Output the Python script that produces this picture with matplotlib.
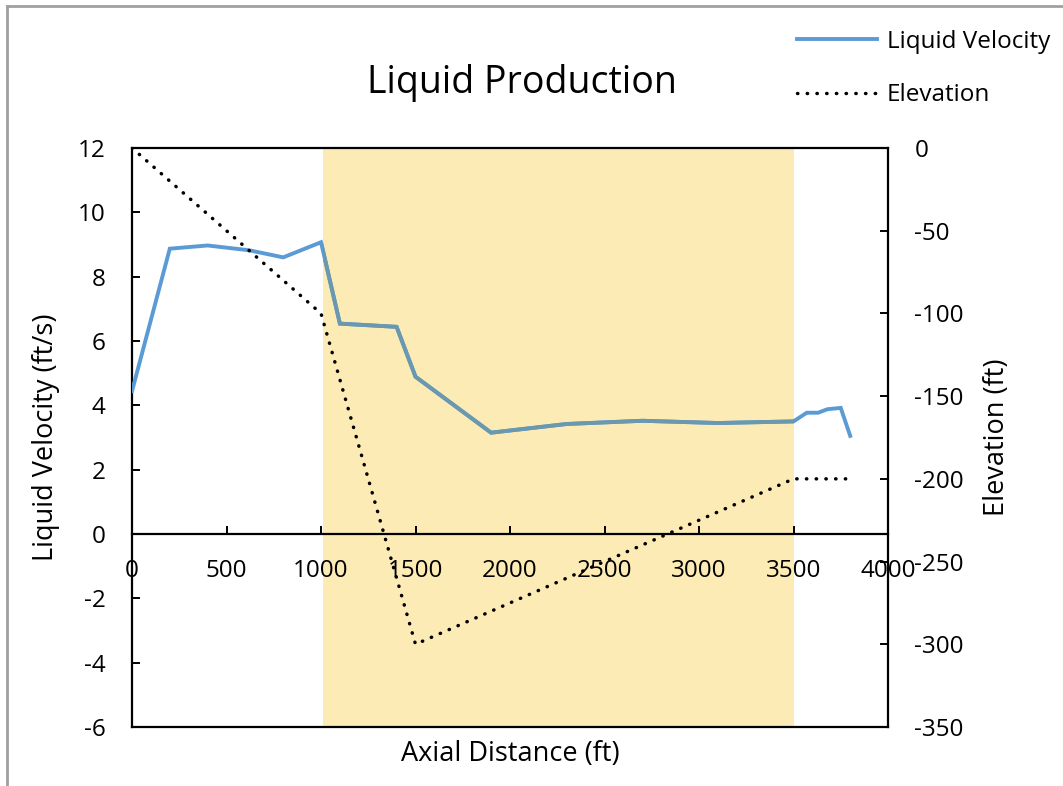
import matplotlib
matplotlib.use("Agg")
import matplotlib.pyplot as plt
from matplotlib.lines import Line2D

plt.rcParams['font.family'] = ['Open Sans', 'DejaVu Sans']
plt.rcParams['axes.unicode_minus'] = False

# ---- data ----
vel_x = [0, 200, 400, 620, 800, 1000, 1100, 1400, 1500, 1900, 2300, 2700, 3100, 3500, 3570, 3630, 3680, 3750, 3800]
vel_y = [4.44, 8.87, 8.97, 8.82, 8.6, 9.07, 6.54, 6.44, 4.89, 3.15, 3.42, 3.52, 3.45, 3.5, 3.77, 3.77, 3.88, 3.92, 3.05]

elev_x = [0, 1000, 1500, 3500, 3780]
elev_y = [0, -100, -300, -200, -200]

shade_range = (1010, 3500)

x_ticks = [0, 500, 1000, 1500, 2000, 2500, 3000, 3500, 4000]
y_left_ticks = [-6, -4, -2, 0, 2, 4, 6, 8, 10, 12]
y_right_ticks = [-350, -300, -250, -200, -150, -100, -50, 0]

title = "Liquid Production"
xlabel = "Axial Distance (ft)"
ylabel_left = "Liquid Velocity (ft/s)"
ylabel_right = "Elevation (ft)"
legend_labels = ["Liquid Velocity", "Elevation"]

# ---- figure ----
W, H = 1063, 786
fig = plt.figure(figsize=(W / 100, H / 100), dpi=100)
ax = fig.add_axes([132 / W, 1 - 727 / H, (888 - 132) / W, (727 - 148) / H])
ax2 = ax.twinx()

blue = '#5B9BD5'
shade_col = '#FDEBB6'

span = ax.axvspan(*shade_range, color=shade_col, zorder=0.5, lw=0)
l1, = ax.plot(vel_x, vel_y, color=blue, lw=2.8, zorder=3, solid_joinstyle='miter')
l1b, = ax.plot(vel_x, vel_y, color='#6A98AE', lw=2.8, zorder=3.1, solid_joinstyle='miter')
l1b.set_clip_path(span)

l2, = ax2.plot(elev_x, elev_y, color='black', lw=2.5, linestyle=(0, (0.1, 2.7)),
               dash_capstyle='round', zorder=3)

ax.set_xlim(0, 4000)
ax.set_ylim(-6, 12)
ax2.set_ylim(-350, 0)
ax.set_xticks(x_ticks)
ax.set_yticks(y_left_ticks)
ax2.set_yticks(y_right_ticks)

ax.spines['bottom'].set_position(('data', 0))
for s in ['left', 'top', 'bottom']:
    ax.spines[s].set_linewidth(1.6)
ax.spines['right'].set_visible(False)
for s in ['right', 'bottom']:
    ax2.spines[s].set_linewidth(1.6)
    ax2.spines[s].set_visible(True)
ax2.spines['top'].set_visible(False)
ax2.spines['left'].set_visible(False)

tsz = 17.5
ax.tick_params(axis='x', direction='in', length=6, width=1.4, pad=18, labelsize=tsz)
ax.tick_params(axis='y', direction='in', length=6, width=1.4, pad=19, labelsize=tsz)
ax2.tick_params(axis='y', direction='in', length=6, width=1.4, pad=19, labelsize=tsz)

lsz = 19.5
ax.set_xlabel(xlabel, fontsize=lsz)
ax.xaxis.set_label_coords(0.5, -0.022)
ax.set_ylabel(ylabel_left, fontsize=lsz)
ax.yaxis.set_label_coords(-0.095, 0.5)
ax2.set_ylabel(ylabel_right, fontsize=lsz)
ax2.yaxis.set_label_coords(1.126, 0.5)

fig.text(522 / W, 1 - 83 / H, title, fontsize=27, ha='center', va='center')

h1 = Line2D([], [], color=blue, lw=2.8)
h2 = Line2D([], [], color='black', lw=2.5, linestyle=(0, (0.1, 2.7)), dash_capstyle='round')
fig.legend([h1, h2], legend_labels, loc='upper left', bbox_to_anchor=(797 / W, 1 - 30 / H),
           frameon=False, fontsize=17.5, handlelength=3.3, handletextpad=0.4,
           labelspacing=1.2, borderaxespad=0, borderpad=0)

# chart-area border (top and left)
fig.add_artist(Line2D([7 / W, 7 / W], [0, 1 - 6 / H], transform=fig.transFigure, color='#a0a0a0', lw=2))
fig.add_artist(Line2D([7 / W, 1], [1 - 6 / H, 1 - 6 / H], transform=fig.transFigure, color='#a0a0a0', lw=2))

fig.savefig('out.png', dpi=100)
